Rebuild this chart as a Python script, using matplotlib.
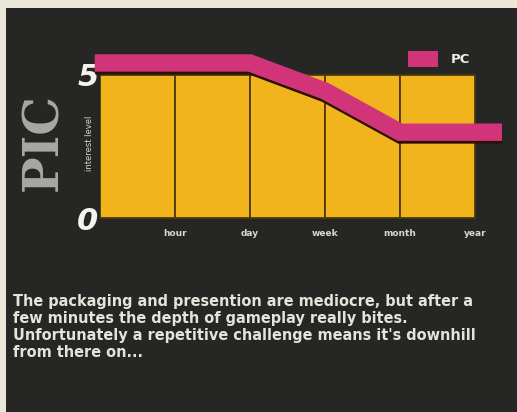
import matplotlib
matplotlib.use("Agg")
import matplotlib.pyplot as plt
import matplotlib.patches as mpatches
import matplotlib.patheffects as pe

# ---- data ----
categories = ["hour", "day", "week", "month", "year"]
column_values = [5, 5, 5, 5, 5]
pc_x = [-0.07, 1, 2, 3, 4, 5, 5.36]
pc_values = [5.42, 5.42, 5.42, 4.44, 3.0, 3.0, 3.0]
y_ticks = [0, 5]
y_tick_labels = ["0", "5"]
caption = ("The packaging and presention are mediocre, but after a\n"
           "few minutes the depth of gameplay really bites.\n"
           "Unfortunately a repetitive challenge means it's downhill\n"
           "from there on...")

W, H = 517, 412
DARK = "#262725"
CREAM = "#ebe7d8"
YELLOW = "#f2b41c"
PINK = "#d2347a"
TEXT = "#e4e4da"

fig = plt.figure(figsize=(W / 100, H / 100), dpi=100, facecolor=CREAM)

# dark panel
fig.patches.append(mpatches.Rectangle((6 / W, 0), 1, 1 - 8 / H,
                                      transform=fig.transFigure,
                                      facecolor=DARK, edgecolor="none", zorder=-5))

# axes: x=0 at px 100, 75 px per unit ; y=0 at px 218 from top, 28.6 px per unit
left_px, right_px = 100, 505
top_px, bot_px = 40, 228
ax = fig.add_axes([left_px / W, 1 - bot_px / H, (right_px - left_px) / W, (bot_px - top_px) / H])
ax.set_zorder(2)
ax.set_facecolor("none")
ax.set_xlim(0, (right_px - left_px) / 75)
ax.set_ylim(-(bot_px - 218) / 28.6, (218 - top_px) / 28.6)
for s in ax.spines.values():
    s.set_visible(False)

xpos = [i + 0.5 for i in range(len(categories))]
ax.bar(xpos, column_values, width=1.0, color=YELLOW, edgecolor="#4a3a0c",
       linewidth=1.3, zorder=2)

ax.plot(pc_x, pc_values, color=PINK, linewidth=12.5, solid_capstyle="butt",
        solid_joinstyle="miter", zorder=3, clip_on=False,
        path_effects=[pe.SimpleLineShadow(offset=(0.3, -2.0), shadow_color="#2a1206", alpha=1.0),
                      pe.Normal()])

ax.set_xticks(range(1, len(categories) + 1))
ax.set_xticklabels(categories, fontsize=6.5, fontweight="bold", color="#d6d6cc")
ax.tick_params(axis="x", length=0, pad=0.5)
ax.set_yticks(y_ticks)
ax.set_yticklabels(y_tick_labels, fontsize=22, fontweight="bold", fontstyle="italic",
                   color="#f4f4ee")
ax.tick_params(axis="y", length=0, pad=1)

# legend
leg = ax.legend(handles=[mpatches.Patch(facecolor=PINK, edgecolor="none")], labels=["PC"],
                loc="center left", bbox_to_anchor=(408 / W, 1 - 59 / H),
                bbox_transform=fig.transFigure, frameon=False, fontsize=9.5,
                handlelength=2.27, handleheight=1.4, handletextpad=0.95, borderpad=0,
                borderaxespad=0)
for t in leg.get_texts():
    t.set_color("#f0f0ea")
    t.set_fontweight("bold")

# side texts
fig.text(90 / W, 1 - 143 / H, "interest level", rotation=90, ha="center", va="center",
         fontsize=6, color="#d6d6cc")
fig.text(44 / W, 1 - 142 / H, "PIC", rotation=90, ha="center", va="center",
         fontsize=35, fontweight="bold", family="DejaVu Serif", color="#a9a9a2")

# caption
fig.text(13 / W, 1 - 294 / H, caption, ha="left", va="top", fontsize=10.45,
         fontweight="bold", family="DejaVu Sans", color=TEXT, linespacing=1.16)

fig.savefig("out.png", dpi=100, facecolor=fig.get_facecolor())
